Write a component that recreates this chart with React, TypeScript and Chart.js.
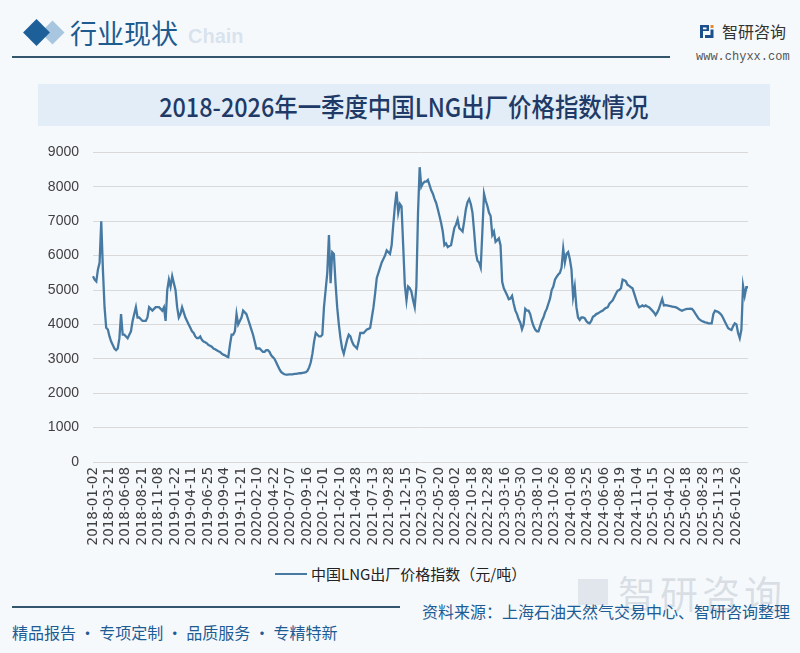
import React, { useEffect, useRef } from "react";
import { Chart, registerables } from "chart.js";

Chart.register(...registerables);

// X-axis tick labels (one every 10 data points)
const tickLabels = [
  "2018-01-02", "2018-03-21", "2018-06-08", "2018-08-21", "2018-11-08",
  "2019-01-22", "2019-04-11", "2019-06-25", "2019-09-04", "2019-11-21",
  "2020-02-10", "2020-04-22", "2020-07-07", "2020-09-16", "2020-12-01",
  "2021-02-10", "2021-04-28", "2021-07-13", "2021-09-28", "2021-12-15",
  "2022-03-07", "2022-05-20", "2022-08-02", "2022-10-18", "2022-12-28",
  "2023-03-16", "2023-05-30", "2023-08-10", "2023-10-26", "2024-01-08",
  "2024-03-25", "2024-06-06", "2024-08-19", "2024-11-04", "2025-01-15",
  "2025-04-02", "2025-06-18", "2025-08-28", "2025-11-13", "2026-01-26",
];

const yTicks = [0, 1000, 2000, 3000, 4000, 5000, 6000, 7000, 8000, 9000];

// LNG ex-factory price index (元/吨)
const p2018 = [
  5400, 5300, 5250, 5600, 5800, 7000, 5600, 4500, 3900, 3850,
  3650, 3500, 3400, 3300, 3250, 3300, 3600, 4300, 3700, 3700,
  3650, 3600, 3700, 3800, 4100, 4300, 4500, 4200, 4200, 4150,
  4100, 4100, 4100, 4200, 4500, 4450, 4400, 4450, 4500, 4500,
  4500, 4450, 4400, 4500, 4100, 5000, 5300, 5100, 5400, 5200,
];
const p2019 = [
  5000, 4500, 4200, 4300, 4500, 4350, 4200, 4100, 4000, 3900,
  3800, 3750, 3650, 3600, 3600, 3650, 3550, 3500, 3480, 3450,
  3400, 3380, 3350, 3300, 3280, 3250, 3220, 3200, 3150, 3120,
  3100, 3070, 3050, 3400, 3700, 3700, 3800, 4300, 4000, 4100,
  4200, 4400, 4350, 4300, 4150, 4000, 3850, 3700, 3500, 3300,
];
const p2020 = [
  3300, 3300, 3250, 3200, 3200, 3250, 3250, 3200, 3100, 3050,
  3000, 2900, 2800, 2700, 2620, 2580, 2550, 2540, 2540, 2550,
  2550, 2550, 2560, 2560, 2570, 2580, 2580, 2590, 2600, 2610,
  2650, 2750, 2900, 3150, 3500, 3750, 3700, 3650, 3650, 3700,
  4500, 5000, 5500, 6600, 5200, 6100, 6050, 5200, 4500, 4000,
];
const p2021 = [
  3600, 3300, 3150, 3350, 3550, 3700, 3650, 3500, 3400, 3350,
  3300, 3500, 3750, 3750, 3750, 3800, 3850, 3870, 3900, 4200,
  4500, 4900, 5350, 5500, 5650, 5800, 5900, 6000, 6150, 6100,
  6050, 6300, 6900, 7450, 7860, 7250, 7500, 7430, 6300, 5150,
  4700, 5100, 5050, 4950, 4700, 4500, 5100, 7250, 8570, 8000,
];
const p2022 = [
  8100, 8150, 8150, 8200, 8050, 7900, 7800, 7650, 7530, 7350,
  7150, 6950, 6700, 6300, 6350, 6250, 6280, 6300, 6550, 6800,
  6900, 7050, 6800, 6750, 6700, 7000, 7350, 7550, 7640, 7500,
  7250, 6700, 6100, 5850, 5800, 5650, 6700, 7800, 7600, 7450,
  7250, 7150, 6600, 6700, 6400, 6450, 6500, 6300, 5240, 5050,
];
const p2023 = [
  4950, 4850, 4730, 4750, 4830, 4600, 4400, 4300, 4150, 4050,
  3860, 4000, 4450, 4400, 4400, 4300, 4100, 3950, 3850, 3800,
  3800, 3950, 4100, 4200, 4350, 4450, 4600, 4750, 5000, 5100,
  5300, 5380, 5450, 5500, 5650, 6200, 5800, 6050, 6100, 5900,
  5600, 4800, 5100, 4500, 4200, 4130, 4200, 4200, 4180, 4100,
];
const p2024 = [
  4050, 4030, 4100, 4220, 4250, 4300, 4320, 4350, 4380, 4400,
  4450, 4480, 4500, 4600, 4650, 4700, 4800, 4900, 4980, 5000,
  5050, 5300, 5280, 5250, 5150, 5120, 5080, 5050, 4900, 4750,
  4600, 4500, 4520, 4550, 4520, 4550, 4520, 4500, 4450, 4400,
  4350, 4270, 4350, 4450, 4600, 4740, 4550, 4560, 4550, 4540,
];
const p2025 = [
  4530, 4520, 4510, 4500, 4480, 4450, 4420, 4400, 4420, 4440,
  4450, 4450, 4460, 4450, 4400, 4320, 4250, 4170, 4130, 4100,
  4080, 4060, 4050, 4030, 4030, 4030, 4300, 4400, 4380, 4360,
  4320, 4270, 4180, 4080, 3980, 3890, 3860, 3840, 3950, 4030,
  4000, 3750, 3600, 3850, 5120, 4830, 5080, 5080,
];

const seriesName = "中国LNG出厂价格指数（元/吨）";
const POINTS_PER_TICK = 10;

const values = [...p2018, ...p2019, ...p2020, ...p2021, ...p2022, ...p2023, ...p2024, ...p2025];
const categories = values.map((_, k) =>
  k % POINTS_PER_TICK === 0 && tickLabels[k / POINTS_PER_TICK] ? tickLabels[k / POINTS_PER_TICK] : ""
);

const LINE_COLOR = "#477aa3";
const BLUE_TEXT = "#1d5c94";

function LineChart() {
  const ref = useRef<HTMLCanvasElement | null>(null);
  useEffect(() => {
    if (!ref.current) return;
    const chart = new Chart(ref.current, {
      type: "line",
      data: {
        labels: categories,
        datasets: [
          {
            label: seriesName,
            data: values,
            borderColor: LINE_COLOR,
            backgroundColor: LINE_COLOR,
            borderWidth: 2.3,
            pointRadius: 0,
            tension: 0,
            fill: false,
          },
        ],
      },
      options: {
        animation: false,
        responsive: false,
        maintainAspectRatio: false,
        devicePixelRatio: 1,
        layout: { padding: { top: 15, right: 52, left: 0, bottom: 0 } },
        plugins: {
          legend: { display: false },
          tooltip: { enabled: false },
        },
        scales: {
          x: {
            type: "category",
            grid: { display: false, drawTicks: false },
            border: { display: false },
            ticks: {
              autoSkip: false,
              minRotation: 90,
              maxRotation: 90,
              padding: 5,
              color: "#404040",
              font: { family: "'DejaVu Sans'", size: 13.5 },
            },
            afterFit: (s: any) => {
              s.height = 100;
            },
          },
          y: {
            min: 0,
            max: 9000,
            afterBuildTicks: (s: any) => {
              s.ticks = yTicks.map((v) => ({ value: v }));
            },
            grid: { color: "#d9d9d9", lineWidth: 1, drawTicks: false },
            border: { display: false },
            ticks: {
              padding: 14,
              color: "#404040",
              font: { family: "'Liberation Sans'", size: 14 },
              callback: (v: any) => String(v),
            },
            afterFit: (s: any) => {
              s.width = 93;
            },
          },
        },
      },
    });
    return () => chart.destroy();
  }, []);
  return <canvas ref={ref} width={800} height={432} style={{ display: "block" }} />;
}

export default function App() {
  const abs = (o: React.CSSProperties): React.CSSProperties => ({ position: "absolute", ...o });
  return (
    <div
      style={{
        position: "fixed",
        left: 0,
        top: 0,
        width: 800,
        height: 653,
        overflow: "hidden",
        background: "#f6f9fc",
        fontFamily: "'Noto Sans CJK SC', sans-serif",
      }}
    >
      {/* header */}
      <div style={abs({ left: 44, top: 24, width: 17, height: 17, background: "#a9c6e0", transform: "rotate(45deg)" })} />
      <div style={abs({ left: 27, top: 23, width: 19, height: 19, background: "#1d5f98", transform: "rotate(45deg)" })} />
      <div style={abs({ left: 70, top: 14, fontSize: 27, lineHeight: "38px", color: "#1e5b8f", whiteSpace: "nowrap" })}>行业现状</div>
      <div style={abs({ left: 188, top: 25, fontSize: 20, fontWeight: 700, fontFamily: "'Liberation Sans'", color: "rgba(180,200,220,0.45)" })}>Chain</div>
      <div style={abs({ left: 12, top: 56, width: 658, height: 1.5, background: "#34566c" })} />

      {/* logo */}
      <svg style={abs({ left: 699, top: 24, width: 15, height: 15 })} viewBox="0 0 15 15">
        <path d="M1 1 H10 V7 H4 V14 H1 Z" fill="#1d4f8c" />
        <rect x="4" y="3.5" width="3.5" height="1.8" fill="#fff" />
        <rect x="11.5" y="1" width="3" height="3" fill="#e58a2a" />
        <path d="M11.5 5.5 H14.5 V14 H6 V11 H11.5 Z" fill="#1d4f8c" />
      </svg>
      <div style={abs({ left: 722, top: 19, fontSize: 16, lineHeight: "24px", color: "#333", whiteSpace: "nowrap" })}>智研咨询</div>
      <div style={abs({ left: 696, top: 50, fontSize: 12, lineHeight: "14px", fontFamily: "'Liberation Mono'", color: "#555", whiteSpace: "nowrap" })}>www.chyxx.com</div>

      {/* title band */}
      <div
        style={abs({
          left: 38,
          top: 84,
          width: 732,
          height: 42,
          background: "#e2edf7",
          display: "flex",
          alignItems: "center",
          justifyContent: "center",
        })}
      >
        <span style={{ display: "inline-block", transform: "scaleX(0.9)", fontSize: 26, fontWeight: 500, color: "#1f3a66", whiteSpace: "nowrap" }}>
          2018-2026年一季度中国LNG出厂价格指数情况
        </span>
      </div>

      {/* chart */}
      <div style={abs({ left: 0, top: 130, width: 800, height: 432 })}>
        <LineChart />
      </div>

      {/* legend */}
      <div style={abs({ left: 275, top: 573, width: 32, height: 2, background: LINE_COLOR })} />
      <div style={abs({ left: 311, top: 563, fontSize: 15, lineHeight: "22px", color: "#222", whiteSpace: "nowrap" })}>{seriesName}</div>

      {/* footer watermark */}
      <div style={abs({ left: 578, top: 579, width: 30, height: 26, background: "rgba(150,165,180,0.22)" })} />
      <div style={abs({ left: 618, top: 570, fontSize: 38, letterSpacing: 4, lineHeight: "44px", color: "rgba(140,155,170,0.28)", whiteSpace: "nowrap" })}>智研咨询</div>

      {/* footer */}
      <div style={abs({ left: 12, top: 606, width: 388, height: 1.5, background: "#34566c" })} />
      <div style={abs({ left: 422, top: 599, fontSize: 16, lineHeight: "24px", color: BLUE_TEXT, whiteSpace: "nowrap" })}>
        资料来源：上海石油天然气交易中心、智研咨询整理
      </div>
      <div style={abs({ left: 12, top: 620, fontSize: 16, lineHeight: "24px", color: BLUE_TEXT, whiteSpace: "nowrap" })}>
        精品报告 · 专项定制 · 品质服务 · 专精特新
      </div>
    </div>
  );
}
